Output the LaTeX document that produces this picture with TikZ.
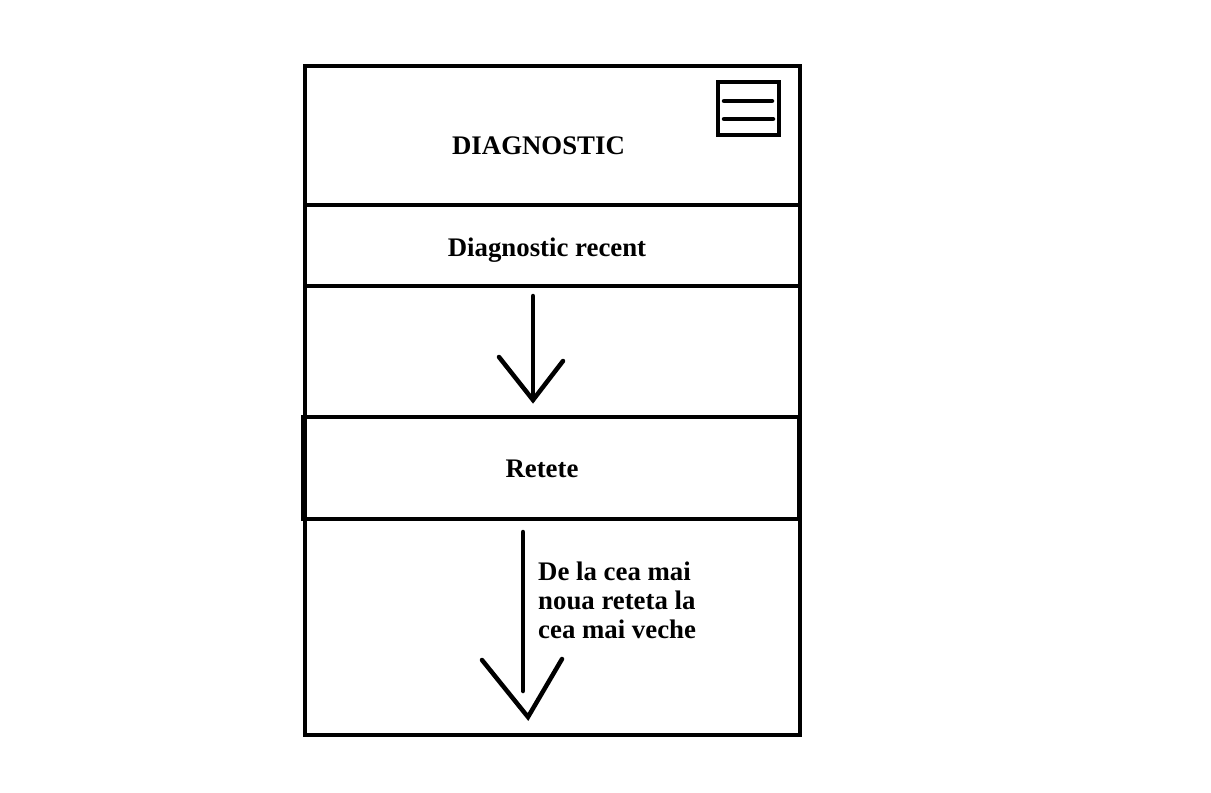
\documentclass[tikz,border=0pt]{standalone}
\usepackage{fontspec}
\setmainfont{Liberation Serif}
\begin{document}
\begin{tikzpicture}[x=1pt,y=-1pt,
  frame/.style={draw=black,line width=4.5pt},
  arr/.style={draw=black,line width=4.5pt,line cap=round,line join=miter},
  lbl/.style={inner sep=0pt,font=\fontsize{26.8}{29}\selectfont\bfseries}]
\useasboundingbox (0,0) rectangle (1211,793);
\fill[white] (0,0) rectangle (1211,793);
% outer frame and sections
\draw[frame] (305,66) rectangle (800,735);
\draw[frame] (305,205) -- (800,205);
\draw[frame] (305,286) -- (799,286);
\draw[frame] (303,417) rectangle (799,519);
% menu icon
\draw[frame] (718,82) rectangle (779,135);
\draw[arr] (724,101) -- (772,101);
\draw[arr] (724,119) -- (773,119);
% texts
\node[lbl,anchor=base] (title) at (538.5,154) {DIAGNOSTIC};
\node[lbl,anchor=base] (recent) at (547,256) {Diagnostic recent};
\node[lbl,anchor=base] (retete) at (542,477) {Retete};
\node[lbl,anchor=base west] (note1) at (538,580) {De la cea mai};
\node[lbl,anchor=base west] (note2) at (538,609) {noua reteta la};
\node[lbl,anchor=base west] (note3) at (538,638) {cea mai veche};
% arrows
\coordinate (a1s) at (533,296);
\coordinate (a1t) at (533,400);
\draw[arr] (a1s) -- (a1t);
\draw[arr] (499,357) -- (a1t) -- (563,361);
\coordinate (a2s) at (523,532);
\coordinate (a2t) at (528,717);
\draw[arr] (a2s) -- (523,691);
\draw[arr] (482,660) -- (a2t) -- (562,659);
\end{tikzpicture}
\end{document}
